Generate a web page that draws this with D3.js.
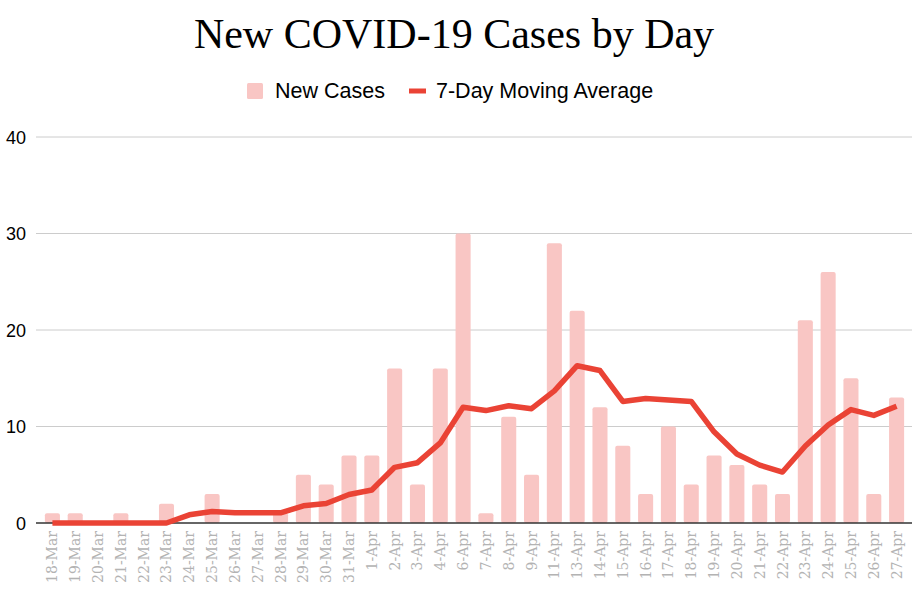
<!DOCTYPE html>
<html>
<head>
<meta charset="utf-8">
<script src="https://cdn.jsdelivr.net/npm/d3@7"></script>
<style>
  body { margin: 0; background: #fff; }
  svg { display: block; }
</style>
</head>
<body>
<svg id="chart" width="922" height="592"></svg>
<script>
const dates = ["18-Mar","19-Mar","20-Mar","21-Mar","22-Mar","23-Mar","24-Mar","25-Mar","26-Mar","27-Mar","28-Mar","29-Mar","30-Mar","31-Mar","1-Apr","2-Apr","3-Apr","4-Apr","6-Apr","7-Apr","8-Apr","9-Apr","11-Apr","13-Apr","14-Apr","15-Apr","16-Apr","17-Apr","18-Apr","19-Apr","20-Apr","21-Apr","22-Apr","23-Apr","24-Apr","25-Apr","26-Apr","27-Apr"];
const newCases = [1,1,0,1,0,2,0,3,0,0,1,5,4,7,7,16,4,16,30,1,11,5,29,22,12,8,3,10,4,7,6,4,3,21,26,15,3,13];
const movingAvg = [0,0,0,0,0,0,0.85,1.2,1.05,1.05,1.05,1.78,2.02,2.95,3.42,5.77,6.25,8.3,12.0,11.65,12.15,11.85,13.7,16.3,15.8,12.6,12.9,12.75,12.6,9.45,7.15,6.0,5.28,7.98,10.15,11.75,11.15,12.1];
const yTicks = [0,10,20,30,40];
const title = "New COVID-19 Cases by Day";
const seriesNames = ["New Cases","7-Day Moving Average"];

const svg = d3.select("#chart");
const barColor = "#f9c6c4";
const lineColor = "#ea4335";

const x = d3.scaleBand().domain(dates).range([41, 908]).paddingInner(0.34).paddingOuter(0.17);
const y = d3.scaleLinear().domain([0, 40]).range([523, 137]);

// title
svg.append("text").attr("x", 454).attr("y", 48).attr("text-anchor", "middle")
  .attr("font-family", "Liberation Serif, serif").attr("font-size", 42).attr("fill", "#000")
  .text(title);

// legend
const lg = svg.append("g");
lg.append("rect").attr("x", 247).attr("y", 83).attr("width", 16).attr("height", 16).attr("rx", 1.5).attr("fill", barColor);
lg.append("text").attr("x", 275).attr("y", 98).attr("font-family", "Liberation Sans, Arial, sans-serif")
  .attr("font-size", 21.5).attr("fill", "#000").text(seriesNames[0]);
lg.append("line").attr("x1", 409).attr("x2", 426).attr("y1", 91).attr("y2", 91).attr("stroke", lineColor).attr("stroke-width", 5);
lg.append("text").attr("x", 436).attr("y", 98).attr("font-family", "Liberation Sans, Arial, sans-serif")
  .attr("font-size", 21.5).attr("fill", "#000").text(seriesNames[1]);

// gridlines + y axis
const yAxis = d3.axisLeft(y).tickValues(yTicks).tickSize(0).tickPadding(0).tickFormat(d3.format("d"));
const yg = svg.append("g").attr("transform", "translate(26,0)").call(yAxis);
yg.select(".domain").remove();
yg.selectAll("text").attr("font-family", "Liberation Sans, Arial, sans-serif").attr("font-size", 18).attr("fill", "#000").attr("dy", "0.35em");

svg.append("g").selectAll("line").data(yTicks.filter(d => d > 0)).join("line")
  .attr("x1", 36).attr("x2", 912).attr("y1", d => y(d)).attr("y2", d => y(d))
  .attr("stroke", "#cccccc").attr("stroke-width", 1);

// bars
svg.append("g").selectAll("rect").data(newCases).join("rect")
  .attr("x", (d, i) => x(dates[i]))
  .attr("width", x.bandwidth())
  .attr("y", d => y(d))
  .attr("height", d => y(0) - y(d))
  .attr("rx", 2)
  .attr("fill", barColor);

// baseline
svg.append("line").attr("x1", 36).attr("x2", 912).attr("y1", y(0)).attr("y2", y(0))
  .attr("stroke", "#333").attr("stroke-width", 1.5);

// line
const line = d3.line().x((d, i) => x(dates[i]) + x.bandwidth() / 2).y(d => y(d));
svg.append("path").datum(movingAvg).attr("d", line).attr("fill", "none")
  .attr("stroke", lineColor).attr("stroke-width", 5.5).attr("stroke-linejoin", "round");

// x axis labels
const xAxis = d3.axisBottom(x).tickSize(0).tickPadding(0);
const xg = svg.append("g").attr("transform", `translate(0,${y(0)})`).call(xAxis);
xg.select(".domain").remove();
xg.selectAll("text")
  .attr("font-family", "DejaVu Serif, serif").attr("font-size", 14).attr("fill", "#b3b3b3")
  .attr("text-anchor", "end").attr("dy", null).attr("y", 0)
  .attr("transform", "translate(5,8) rotate(-90)");
</script>
</body>
</html>
